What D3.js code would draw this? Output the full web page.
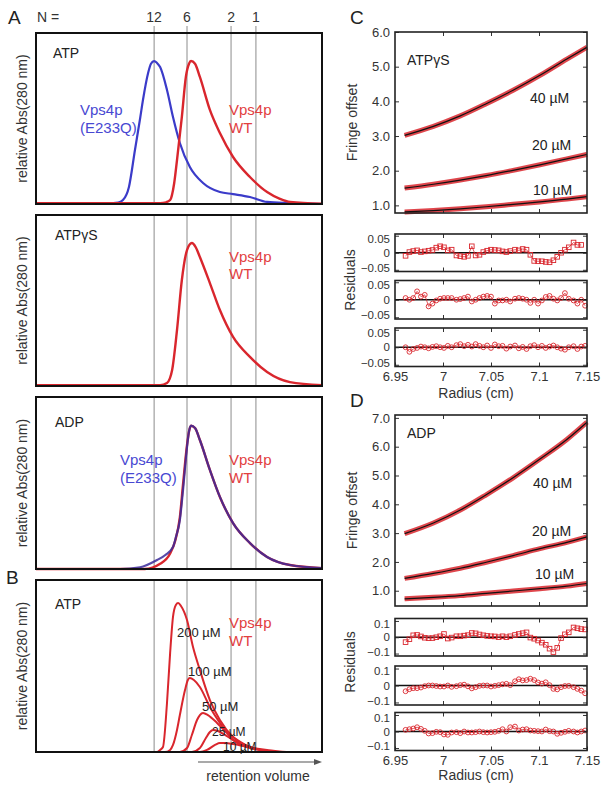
<!DOCTYPE html>
<html>
<head>
<meta charset="utf-8">
<script src="https://cdn.jsdelivr.net/npm/d3@7"></script>
<style>
  body { margin: 0; background: #fff; }
  svg { display: block; font-family: "Liberation Sans", Arial, sans-serif; }
</style>
</head>
<body>
<svg id="fig" width="602" height="792"></svg>
<script>
// ---- size-exclusion traces (retention volume in arbitrary units 0-100, relative abs 0-1) ----
const nLabels = ["12", "6", "2", "1"];
const nVolumes = [41.3, 52.8, 68.2, 76.9];

const atpE233Q = [[0,0],[22,0],[28.7,0.008],[30.4,0.023],[32.5,0.1],[34.6,0.316],[36.4,0.5],[37.4,0.608],[39.2,0.766],[40.2,0.82],[41.3,0.836],[42.3,0.825],[43.4,0.801],[45.8,0.667],[47.9,0.509],[50.3,0.357],[53.8,0.216],[58.4,0.123],[64.3,0.07],[68.9,0.058],[74.8,0.041],[80.8,0.012],[88.8,0.006],[100,0]];
const atpWT = [[0,0.005],[43.4,0.005],[45.5,0.01],[46.9,0.023],[48.3,0.12],[49.3,0.257],[51.0,0.509],[52.4,0.743],[53.5,0.82],[54.2,0.836],[55.6,0.82],[57.3,0.743],[60.8,0.55],[64.3,0.415],[68.9,0.275],[74.8,0.158],[80.8,0.07],[85.3,0.03],[88.8,0.012],[100,0.002]];
const atpgsWT = [[0,0.005],[43.4,0.005],[45.8,0.018],[47.6,0.094],[49.3,0.327],[51.0,0.62],[52.8,0.795],[54.5,0.836],[55.9,0.81],[57.3,0.754],[60.8,0.602],[64.3,0.444],[68.9,0.287],[74.8,0.17],[80.8,0.082],[88.8,0.023],[100,0.005]];
const adpWT = [[0,0],[38,0],[43.4,0.03],[46.9,0.09],[48.6,0.16],[50.3,0.3],[51.4,0.49],[52.8,0.72],[53.5,0.8],[54.2,0.833],[55.6,0.82],[57.3,0.75],[60.8,0.576],[64.3,0.419],[68.9,0.267],[74.8,0.151],[80.8,0.07],[88.8,0.023],[100,0.005]];
const adpE233Q = [[0,0],[29.4,0],[36.4,0.01],[42.3,0.052],[45.1,0.08],[47.9,0.128],[49.0,0.19],[50.3,0.285],[51.4,0.459],[52.8,0.709],[53.5,0.8],[54.2,0.833],[55.6,0.82],[57.3,0.75],[60.8,0.576],[64.3,0.419],[68.9,0.267],[74.8,0.151],[80.8,0.07],[88.8,0.023],[100,0.005]];

// panel B, concentration series
const concLabels = ["200 µM", "100 µM", "50 µM", "25 µM", "10 µM"];
const atp200 = [[0,0],[42.3,0],[43.4,0.012],[44.4,0.029],[45.8,0.285],[46.9,0.576],[47.9,0.785],[48.9,0.855],[49.7,0.866],[50.7,0.849],[52.8,0.767],[54.9,0.61],[57.3,0.477],[60.8,0.302],[64.3,0.186],[68.9,0.087],[74.8,0.029],[86.4,0],[100,0]];
const atp100 = [[0,0],[45.1,0],[46.9,0.012],[47.9,0.041],[49.3,0.128],[50.3,0.215],[52.1,0.36],[53.1,0.419],[53.8,0.43],[55.2,0.419],[57.3,0.378],[60.8,0.262],[64.3,0.169],[68.9,0.07],[74.8,0.023],[85.3,0],[100,0]];
const atp50 = [[0,0],[50.3,0],[52.8,0.023],[54.5,0.099],[56.3,0.186],[57.3,0.215],[58.4,0.227],[60.1,0.215],[63.3,0.169],[66.1,0.122],[68.9,0.087],[74.8,0.029],[83.6,0],[100,0]];
const atp25 = [[0,0],[54.5,0],[57.3,0.023],[59.4,0.081],[60.8,0.116],[61.9,0.128],[63.6,0.122],[66.1,0.099],[68.9,0.07],[75.9,0.023],[83.6,0],[100,0]];
const atp10 = [[0,0],[57.3,0],[59.8,0.012],[62.6,0.041],[64.3,0.052],[66.1,0.052],[68.9,0.047],[75.9,0.023],[80.8,0.012],[88.8,0],[100,0]];

// ---- sedimentation equilibrium (radius in cm, fringe offset) ----
const fitRadius = [6.960, 6.990, 7.018, 7.045, 7.073, 7.101, 7.129, 7.150];
const atpgs40 = [3.02, 3.28, 3.58, 3.93, 4.32, 4.75, 5.22, 5.56];
const atpgs20 = [1.50, 1.61, 1.73, 1.86, 2.01, 2.17, 2.34, 2.47];
const atpgs10 = [0.81, 0.85, 0.90, 0.96, 1.03, 1.10, 1.18, 1.25];
const adp40 = [2.98, 3.35, 3.80, 4.33, 4.92, 5.57, 6.25, 6.85];
const adp20 = [1.43, 1.60, 1.78, 1.99, 2.22, 2.46, 2.68, 2.87];
const adp10 = [0.72, 0.77, 0.83, 0.91, 0.99, 1.07, 1.16, 1.25];
const fitLabels = ["40 µM", "20 µM", "10 µM"];

const resRadius = [6.961,6.965,6.969,6.973,6.977,6.981,6.985,6.989,6.993,6.997,
  7.001,7.005,7.009,7.014,7.018,7.022,7.026,7.030,7.034,7.038,
  7.042,7.046,7.050,7.054,7.058,7.062,7.066,7.070,7.075,7.079,
  7.083,7.087,7.091,7.095,7.099,7.103,7.107,7.111,7.115,7.119,
  7.123,7.127,7.131,7.136,7.140,7.144,7.148];
const resAtpgs40 = [-0.009,0.002,0.005,0.007,0.002,0.004,0.006,0.008,0.015,0.019,
  0.016,0.007,0.009,-0.008,-0.010,-0.012,-0.009,0.019,-0.008,-0.006,
  0.002,0.006,0.009,0.008,0.007,0.004,0.002,0.005,0.009,0.007,
  0.011,0.009,-0.006,-0.024,-0.025,-0.025,-0.027,-0.028,-0.022,-0.012,
  0.000,0.009,0.016,0.030,0.023,0.023,null];
const resAtpgs20 = [0.005,0,0.005,0.024,0.009,0.014,-0.019,-0.011,-0.002,0.003,
  0.005,0.005,0.005,0,0.002,0.005,0.009,-0.005,0,0.005,
  0.009,0.011,0.009,-0.011,-0.002,-0.002,0,-0.005,0.003,0.005,
  0.003,0,-0.009,0,-0.011,-0.002,0.008,0.011,0.003,-0.002,
  0.005,0.019,0.003,-0.002,-0.011,0,-0.017];
const resAtpgs10 = [0.000,-0.013,-0.005,-0.002,0.002,0.000,-0.003,0.001,0.003,0.000,
  -0.002,0.004,0.000,0.006,0.009,0.003,0.007,0.002,0.009,0.004,
  0.000,0.005,-0.002,0.008,0.003,0.004,-0.004,0.002,0.005,-0.003,
  0.001,-0.005,0.003,0.006,0.000,0.004,-0.002,0.002,0.005,0.000,
  -0.004,-0.007,0.000,0.003,-0.005,0.002,0.004];
const resAdp40 = [-0.030,-0.012,0.012,0.014,0.005,-0.003,-0.006,-0.005,0,0.006,
  0.020,-0.008,-0.002,0.006,0.006,0.010,0.013,0.026,0.024,0.017,
  0.012,0.008,0.006,0.005,0,0.006,0,0.006,0.014,0.020,
  0.025,0.030,-0.002,-0.009,-0.020,-0.033,-0.046,-0.070,-0.091,-0.065,
  -0.005,0.018,0.030,0.060,0.055,0.050,0.048];
const resAdp20 = [-0.034,-0.022,-0.016,-0.016,-0.012,-0.004,0,0,-0.003,-0.006,
  -0.006,0,-0.008,-0.004,0.002,0.005,-0.005,-0.017,-0.010,-0.002,
  0,0,-0.006,-0.002,0.002,0.007,0.010,0.002,0.025,0.037,
  0.030,0.032,0.040,0.032,0.018,0.011,0.019,0.002,-0.020,-0.023,
  -0.010,-0.003,-0.002,-0.010,-0.020,-0.030,-0.046];
const resAdp10 = [0.010,0.014,0.018,0.026,0.016,0.004,-0.012,-0.010,-0.002,-0.004,
  -0.018,-0.020,-0.006,-0.004,-0.010,0.000,-0.006,-0.006,-0.004,0.000,
  -0.004,-0.006,-0.004,-0.002,0.004,0.014,0.000,0.026,0.030,0.006,
  0.012,0.014,0.006,0.004,0.002,0.000,0.012,0.002,0.000,-0.014,
  -0.008,-0.002,0.004,0.000,-0.006,0.000,0.006];

const radiusTicks = [6.95, 7, 7.05, 7.1, 7.15];

const svg = d3.select("#fig");
const red = "#d9262d", blue = "#3b3bc9";
const txtRed = "#e2403f", txtBlue = "#4848d2";

function label(x, y, text, size, color, anchor) {
  svg.append("text").attr("x", x).attr("y", y)
    .attr("font-size", size).attr("fill", color || "#222")
    .attr("text-anchor", anchor || "start").text(text);
}

// ---------- left column: chromatograms ----------
const xVol = d3.scaleLinear().domain([0, 100]).range([36, 322]);

function chromPanel(top, bottom, curves, gridTop) {
  const g = svg.append("g");
  const y = d3.scaleLinear().domain([0, 1]).range([bottom, top]);
  g.selectAll("line").data(nVolumes).enter().append("line")
    .attr("x1", d => xVol(d)).attr("x2", d => xVol(d))
    .attr("y1", gridTop || top).attr("y2", bottom)
    .attr("stroke", "#8c8c8c").attr("stroke-width", 1);
  const line = d3.line().x(d => xVol(d[0])).y(d => y(d[1])).curve(d3.curveMonotoneX);
  curves.forEach(c => {
    g.append("path").attr("d", line(c.data)).attr("fill", "none")
      .attr("stroke", c.color).attr("stroke-width", c.width || 2.4)
      .attr("opacity", c.opacity || 1);
  });
  g.append("rect").attr("x", xVol(0)).attr("y", top)
    .attr("width", xVol(100) - xVol(0)).attr("height", bottom - top)
    .attr("fill", "none").attr("stroke", "#111").attr("stroke-width", 2);
  g.append("text")
    .attr("transform", `translate(27,${(top + bottom) / 2}) rotate(-90)`)
    .attr("text-anchor", "middle").attr("font-size", 14).attr("fill", "#333")
    .text("relative Abs(280 nm)");
}

chromPanel(33, 204, [
  { data: atpE233Q, color: blue, width: 2.2 },
  { data: atpWT, color: red }
], 26);
chromPanel(215, 386, [{ data: atpgsWT, color: red }]);
chromPanel(397, 569, [
  { data: adpWT, color: red },
  { data: adpE233Q, color: "#3a2a9a", width: 2.2, opacity: 0.85 }
]);
chromPanel(580, 752, [atp10, atp25, atp50, atp100, atp200].map(d => ({ data: d, color: red, width: 2 })));

// N = oligomer markers
label(8, 24, "A", 19, "#222");
label(37, 22, "N =", 14, "#333");
nVolumes.forEach((v, i) => label(xVol(v), 22, nLabels[i], 14, "#333", "middle"));

label(53, 58, "ATP", 14);
label(80, 115, "Vps4p", 15, txtBlue);
label(80, 133, "(E233Q)", 15, txtBlue);
label(229, 115, "Vps4p", 15, txtRed);
label(229, 133, "WT", 15, txtRed);

label(55, 240, "ATPγS", 14);
label(229, 262, "Vps4p", 15, txtRed);
label(229, 279, "WT", 15, txtRed);

label(55, 427, "ADP", 14);
label(120, 465, "Vps4p", 15, txtBlue);
label(120, 483, "(E233Q)", 15, txtBlue);
label(229, 465, "Vps4p", 15, txtRed);
label(229, 483, "WT", 15, txtRed);

label(6, 584, "B", 19, "#222");
label(55, 609, "ATP", 14);
label(229, 628, "Vps4p", 15, txtRed);
label(229, 646, "WT", 15, txtRed);
const concPos = [[177, 637, 13], [188, 676, 13], [202, 711, 13], [212, 736, 12], [223, 751, 12]];
concLabels.forEach((t, i) => label(concPos[i][0], concPos[i][1], t, concPos[i][2], "#222"));

// retention volume arrow
svg.append("line").attr("x1", 198).attr("x2", 318).attr("y1", 762).attr("y2", 762)
  .attr("stroke", "#555").attr("stroke-width", 1.2);
svg.append("path").attr("d", "M314,759 L322,762 L314,765 Z").attr("fill", "#555");
label(258, 781, "retention volume", 14, "#333", "middle");

// ---------- right column: AUC ----------
const xR = d3.scaleLinear().domain([6.95, 7.15]).range([395, 587]);

function innerAxes(g, y, top, bottom, yTicks, yFmt, bottomLabels, small) {
  const inner = [7, 7.05, 7.1];
  g.append("g").attr("transform", `translate(0,${top})`)
    .call(d3.axisTop(xR).tickValues(inner).tickSize(-4).tickFormat(""));
  const bx = g.append("g").attr("transform", `translate(0,${bottom})`);
  if (bottomLabels) {
    bx.call(d3.axisBottom(xR).tickValues(radiusTicks).tickSize(-4).tickPadding(5)
      .tickFormat(d3.format("~g")));
    bx.selectAll(".tick text").attr("font-size", 13);
  } else {
    bx.call(d3.axisBottom(xR).tickValues(inner).tickSize(-4).tickFormat(""));
  }
  const ly = g.append("g").attr("transform", `translate(395,0)`)
    .call(d3.axisLeft(y).tickValues(yTicks).tickSize(-4).tickPadding(5).tickFormat(yFmt));
  g.append("g").attr("transform", `translate(587,0)`)
    .call(d3.axisRight(y).tickValues(yTicks).tickSize(-4).tickFormat(""));
  g.selectAll(".domain").remove();
  g.selectAll(".tick line").attr("stroke", "#333");
  g.selectAll(".tick text").attr("fill", "#333")
    .attr("font-family", "'Liberation Sans', Arial, sans-serif");
  if (small) {
    // residual labels sit close to the neighbouring panel, nudge them inward
    ly.selectAll(".tick text").attr("font-size", 11.5)
      .attr("dy", d => d > 0 ? "0.55em" : d < 0 ? "0.15em" : "0.32em");
  } else {
    ly.selectAll(".tick text").attr("font-size", 13);
  }
  g.append("rect").attr("x", 395).attr("y", top).attr("width", 192).attr("height", bottom - top)
    .attr("fill", "none").attr("stroke", "#222").attr("stroke-width", 1.6);
}

function aucPanel(cfg) {
  const g = svg.append("g");
  const y = d3.scaleLinear().domain(cfg.yDomain).range([cfg.bottom, cfg.top]);
  const line = d3.line().x((d, i) => xR(fitRadius[i])).y(d => y(d)).curve(d3.curveMonotoneX);
  cfg.fits.forEach(f => {
    g.append("path").attr("d", line(f)).attr("fill", "none")
      .attr("stroke", red).attr("stroke-width", 5).attr("opacity", 0.85);
    g.append("path").attr("d", line(f)).attr("fill", "none")
      .attr("stroke", "#111").attr("stroke-width", 1.2);
  });
  innerAxes(g, y, cfg.top, cfg.bottom, cfg.yTicks, d3.format(".1f"), false, false);
  g.append("text")
    .attr("transform", `translate(357,${(cfg.top + cfg.bottom) / 2}) rotate(-90)`)
    .attr("text-anchor", "middle").attr("font-size", 14).attr("fill", "#333").text("Fringe offset");

  cfg.residuals.forEach((r, k) => {
    const rg = svg.append("g");
    const ry = d3.scaleLinear().domain([-cfg.resMax, cfg.resMax]).range([r.bottom, r.top]);
    const pts = r.values.map((v, i) => ({ x: resRadius[i], v })).filter(p => p.v !== null);
    rg.append("line").attr("x1", 395).attr("x2", 587).attr("y1", ry(0)).attr("y2", ry(0))
      .attr("stroke", "#111").attr("stroke-width", 1.3);
    rg.append("path")
      .attr("d", d3.line().x(p => xR(p.x)).y(p => ry(p.v))(pts))
      .attr("fill", "none").attr("stroke", red).attr("stroke-width", 1).attr("opacity", 0.75);
    if (k === 0) {
      rg.selectAll("rect.m").data(pts).enter().append("rect")
        .attr("x", p => xR(p.x) - 2.3).attr("y", p => ry(p.v) - 2.3)
        .attr("width", 4.6).attr("height", 4.6)
        .attr("fill", "none").attr("stroke", red).attr("stroke-width", 0.9);
    } else {
      rg.selectAll("circle").data(pts).enter().append("circle")
        .attr("cx", p => xR(p.x)).attr("cy", p => ry(p.v)).attr("r", 2.4)
        .attr("fill", "none").attr("stroke", red).attr("stroke-width", 0.9);
    }
    innerAxes(rg, ry, r.top, r.bottom, cfg.resTicks, d => d === 0 ? "0" : d3.format("~g")(d), k === 2, true);
  });
  svg.append("text")
    .attr("transform", `translate(355,${cfg.resLabelY}) rotate(-90)`)
    .attr("text-anchor", "middle").attr("font-size", 14).attr("fill", "#333").text("Residuals");
  label(476, cfg.xLabelY, "Radius (cm)", 14, "#333", "middle");
}

aucPanel({
  top: 32, bottom: 213, yDomain: [0.78, 6.0], yTicks: [1, 2, 3, 4, 5, 6],
  fits: [atpgs40, atpgs20, atpgs10],
  resMax: 0.055, resTicks: [-0.05, 0, 0.05],
  residuals: [
    { top: 234, bottom: 271.5, values: resAtpgs40 },
    { top: 280.5, bottom: 319, values: resAtpgs20 },
    { top: 328, bottom: 366.5, values: resAtpgs10 }
  ],
  resLabelY: 280, xLabelY: 398
});
aucPanel({
  top: 415, bottom: 606, yDomain: [0.47, 7.1], yTicks: [1, 2, 3, 4, 5, 6, 7],
  fits: [adp40, adp20, adp10],
  resMax: 0.115, resTicks: [-0.1, 0, 0.1],
  residuals: [
    { top: 618.5, bottom: 656, values: resAdp40 },
    { top: 666, bottom: 705, values: resAdp20 },
    { top: 712.5, bottom: 750.5, values: resAdp10 }
  ],
  resLabelY: 662, xLabelY: 780
});

label(350, 24, "C", 19, "#222");
label(407, 65, "ATPγS", 14);
[[530, 103], [532, 150], [533, 195]].forEach((p, i) => label(p[0], p[1], fitLabels[i], 14));
label(350, 407, "D", 19, "#222");
label(407, 438, "ADP", 14);
[[533, 488], [532, 536], [535, 579]].forEach((p, i) => label(p[0], p[1], fitLabels[i], 14));
</script>
</body>
</html>
